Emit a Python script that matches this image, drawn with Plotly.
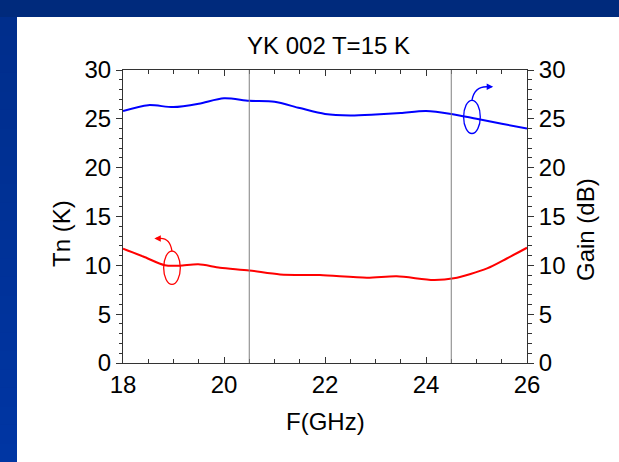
import plotly.graph_objects as go

# ---- data ----
freq_gain = [18.0, 18.5, 19.0, 19.5, 20.0, 20.5, 21.0, 21.5, 22.0, 22.5, 23.0, 23.5, 24.0, 24.5, 25.0, 25.5, 26.0]
gain_db = [25.8, 26.4, 26.2, 26.55, 27.1, 26.85, 26.75, 26.1, 25.5, 25.35, 25.45, 25.6, 25.8, 25.5, 25.0, 24.5, 24.0]

freq_tn = [18.0, 18.4, 18.83, 19.12, 19.49, 19.92, 20.5, 21.11, 21.9, 22.83, 23.42, 24.15, 24.55, 25.21, 25.6, 26.0]
tn_k = [11.7, 10.9, 10.0, 9.96, 10.1, 9.76, 9.48, 9.07, 9.0, 8.73, 8.87, 8.5, 8.67, 9.69, 10.7, 11.8]

band_edges = [20.5, 24.5]
x_ticks = [18, 20, 22, 24, 26]
y_ticks = [0, 5, 10, 15, 20, 25, 30]

FONT = "Liberation Sans, Arial, sans-serif"
FS = 24
BLUE = "#0000ff"
RED = "#ff0000"

fig = go.Figure()
fig.add_trace(go.Scatter(x=freq_tn, y=tn_k, mode="lines", line=dict(color=RED, width=2, shape="spline", smoothing=0.8),
                         yaxis="y", showlegend=False, hoverinfo="skip"))
fig.add_trace(go.Scatter(x=freq_gain, y=gain_db, mode="lines", line=dict(color=BLUE, width=2, shape="spline", smoothing=0.8),
                         yaxis="y2", showlegend=False, hoverinfo="skip"))

# plot area geometry (pixels)
L, R, T, B = 123, 92, 70, 99
W, H = 619, 462
pw, ph = W - L - R, H - T - B

def px(x):
    return (x - L) / pw

def py(y):
    return (H - B - y) / ph

shapes = []
# blue frame: top strip and left strip (gradient)
n = 24
for i in range(n):
    y0p = 17 + (H - 17) * i / n
    y1p = 17 + (H - 17) * (i + 1) / n + 1.5
    t = i / (n - 1)
    g = int(0x2e + (0x36 - 0x2e) * t)
    b = int(0x8c + (0xa3 - 0x8c) * t)
    shapes.append(dict(type="rect", xref="paper", yref="paper", x0=px(-2), x1=px(17), y0=py(y1p), y1=py(y0p),
                       fillcolor=f"#00{g:02x}{b:02x}", line=dict(width=0), layer="below"))
shapes.append(dict(type="rect", xref="paper", yref="paper", x0=px(-2), x1=px(W + 2), y0=py(17), y1=py(-2),
                   fillcolor="#002a7c", line=dict(width=0), layer="below"))

for e in band_edges:
    shapes.append(dict(type="line", xref="x", yref="y", x0=e, x1=e, y0=0, y1=30,
                       line=dict(color="#808080", width=1)))

# ellipse markers and curved arrows
shapes.append(dict(type="circle", xref="x", yref="y", x0=24.745, x1=25.075, y0=23.5, y1=26.9,
                   line=dict(color=BLUE, width=1.3)))
shapes.append(dict(type="path", xref="x", yref="y", path="M 24.91 26.9 Q 24.96 28.35 25.22 28.28",
                   line=dict(color=BLUE, width=1.3)))
shapes.append(dict(type="circle", xref="x", yref="y", x0=18.805, x1=19.135, y0=8.05, y1=11.45,
                   line=dict(color=RED, width=1.3)))
shapes.append(dict(type="path", xref="x", yref="y", path="M 18.97 11.45 Q 18.93 12.85 18.72 12.76",
                   line=dict(color=RED, width=1.3)))

annotations = [
    dict(x=25.33, y=28.28, xref="x", yref="y", ax=-7, ay=0, text="", showarrow=True,
         arrowhead=2, arrowsize=1, arrowwidth=1.3, arrowcolor=BLUE),
    dict(x=18.62, y=12.76, xref="x", yref="y", ax=7, ay=0, text="", showarrow=True,
         arrowhead=2, arrowsize=1, arrowwidth=1.3, arrowcolor=RED),
    dict(text="YK 002 T=15 K", x=px(328), y=py(46), xref="paper", yref="paper", showarrow=False,
         xanchor="center", yanchor="middle", font=dict(family=FONT, size=FS, color="black")),
    dict(text="F(GHz)", x=px(325), y=py(421), xref="paper", yref="paper", showarrow=False,
         xanchor="center", yanchor="middle", font=dict(family=FONT, size=FS, color="black")),
    dict(text="Tn (K)", x=px(61), y=py(234), xref="paper", yref="paper", showarrow=False, textangle=-90,
         xanchor="center", yanchor="middle", font=dict(family=FONT, size=FS, color="black")),
    dict(text="Gain (dB)", x=px(585), y=py(230), xref="paper", yref="paper", showarrow=False, textangle=-90,
         xanchor="center", yanchor="middle", font=dict(family=FONT, size=FS, color="black")),
]

axis_common = dict(showgrid=False, zeroline=False, showline=True, linecolor="#333333", linewidth=1,
                   tickcolor="#333333", tickfont=dict(family=FONT, size=FS, color="black"))

fig.update_layout(
    width=W, height=H, autosize=False,
    margin=dict(l=L, r=R, t=T, b=B, pad=0),
    paper_bgcolor="white", plot_bgcolor="white",
    showlegend=False,
    xaxis=dict(range=[18, 26], tickvals=x_ticks, ticktext=[str(v) for v in x_ticks], ticks="inside", ticklen=6,
               mirror="ticks", minor=dict(dtick=0.5, ticks="inside", ticklen=4, tickcolor="#333333"), **axis_common),
    yaxis=dict(range=[0, 30], tickvals=y_ticks, ticktext=[str(v) for v in y_ticks], ticks="outside", ticklen=6,
               minor=dict(dtick=1, ticks="outside", ticklen=3, tickcolor="#333333"), **axis_common),
    yaxis2=dict(range=[0, 30], tickvals=y_ticks, ticktext=[str(v) for v in y_ticks], ticks="outside", ticklen=6,
                overlaying="y", side="right",
                minor=dict(dtick=1, ticks="outside", ticklen=4, tickcolor="#333333"), **axis_common),
    shapes=shapes,
    annotations=annotations,
)

fig.write_html("out.html", config={"displayModeBar": False},
               post_script="document.body.style.margin='0';document.body.style.overflow='hidden';")
